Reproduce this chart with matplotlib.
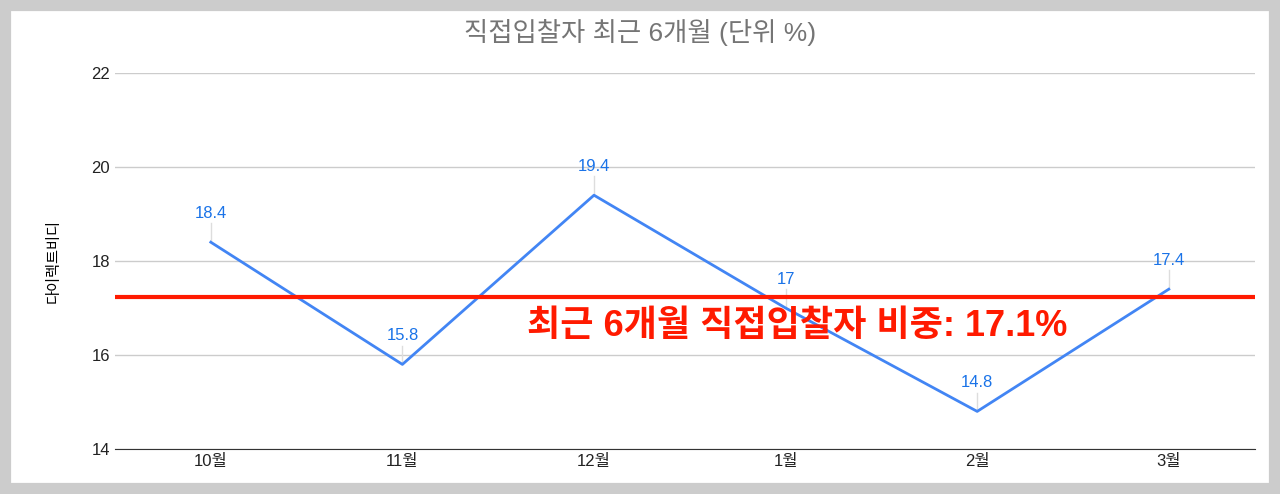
import matplotlib
matplotlib.use("Agg")
import matplotlib.pyplot as plt
from matplotlib.patches import Rectangle

plt.rcParams['font.family'] = ['Liberation Sans', 'Noto Sans CJK KR', 'DejaVu Sans']

months = ['10월', '11월', '12월', '1월', '2월', '3월']
values = [18.4, 15.8, 19.4, 17, 14.8, 17.4]
labels = ['18.4', '15.8', '19.4', '17', '14.8', '17.4']
avg = 17.23

fig = plt.figure(figsize=(12.8, 4.94), dpi=100)
fig.patches.append(Rectangle((0, 0), 1, 1, transform=fig.transFigure, facecolor='white',
                             edgecolor='#cccccc', linewidth=16, zorder=-1))
ax = fig.add_axes([115/1280, 1-449/494, (1255-115)/1280, (449-73)/494])
x = list(range(len(months)))
ax.plot(x, values, color='#4285f4', lw=2, zorder=3)
for xi, v, t in zip(x, values, labels):
    ax.plot([xi, xi], [v, v+0.4], color='#dddddd', lw=1, zorder=2)
    ax.text(xi, v+0.45, t, color='#1a73e8', ha='center', va='bottom', fontsize=12)
ax.axhline(avg, color='#ff1a00', lw=3, zorder=4)
ax.text(1.65, 16.6, '최근 6개월 직접입찰자 비중: 17.1%', color='#ff1a00', fontsize=26,
        fontweight='bold', va='center', ha='left', zorder=5)
ax.set_ylim(14, 22)
ax.set_xlim(-0.5, 5.45)
ax.set_yticks([14, 16, 18, 20, 22])
ax.set_xticks(x)
ax.set_xticklabels(months)
ax.tick_params(length=0, labelsize=12, colors='#222222')
ax.grid(axis='y', color='#cccccc', lw=1)
ax.set_axisbelow(True)
for s in ['top', 'right', 'left']:
    ax.spines[s].set_visible(False)
ax.spines['bottom'].set_color('#333333')
ax.set_ylabel('다이렉트비디', fontsize=11, labelpad=22)
fig.text(0.5, 1-32/494, '직접입찰자 최근 6개월 (단위 %)', ha='center', va='center',
         fontsize=19, color='#757575')
fig.savefig('out.png', dpi=100)
